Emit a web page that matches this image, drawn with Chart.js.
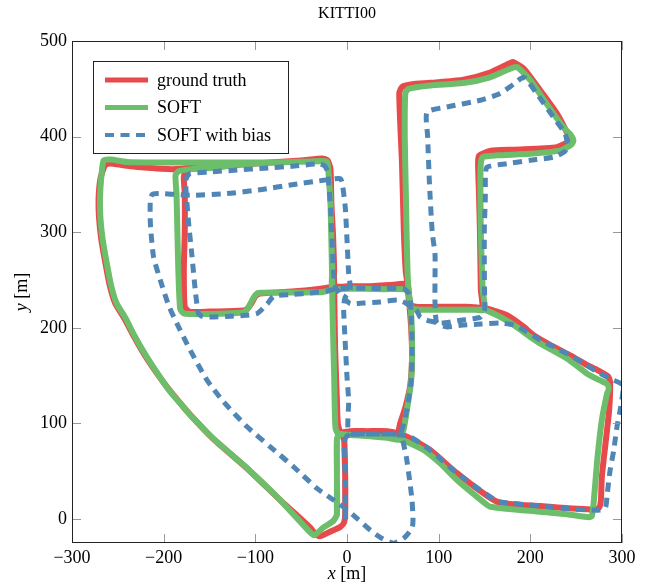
<!DOCTYPE html>
<html>
<head>
<meta charset="utf-8">
<title>KITTI00</title>
<script src="https://cdn.jsdelivr.net/npm/chart.js@4.4.0/dist/chart.umd.min.js"></script>
<style>
  html, body { margin: 0; padding: 0; background: #fff; }
  #wrap { width: 647px; height: 585px; }
</style>
</head>
<body>
<div id="wrap"><canvas id="traj" width="647" height="585"></canvas></div>
<script>
// KITTI00 trajectory - ground truth vs SOFT vs SOFT with bias (metres)

const chartTitle = 'KITTI00';
const seriesNames = ['ground truth', 'SOFT', 'SOFT with bias'];
const xTicks = [-300, -200, -100, 0, 100, 200, 300];
const yTicks = [0, 100, 200, 300, 400, 500];

// [x, y] pairs in driving order
const groundTruth = [
  [-2,0],[-2,45],[-3,82],[-5,89],[3,92],[22,92],[44,92],[55,90],
  [58,100],[64,118],[69,140],[71,170],[70,200],[68,225],[66,245],
  [50,245],[25,243.5],[0,243],[-15,243],[-29,241],[-60,238],[-95,236],[-100,233],[-104,226],[-110,219],[-117,218],
  [-150,217],[-172,217],[-177,222],[-178,260],[-177,300],[-177,340],[-178,358],[-175,365],[-150,368],[-100,372],
  [-50,375],[-27,377],[-21,375],[-18,366],[-17,330],[-15,290],[-14,260],[-14,243],
  [0,243.5],[25,243.5],[50,245],[63,246],[67,236],[68,225],[75,222],[100,222],[130,222],[147,222],
  [146,240],[145,302],[144,340],[143,372],[144,380],[156,385],[182,386.4],[229,389],[243,396],[241,402],
  [229,424],[211,448],[193,471],[181,478],[178,477],[156,467],[127,459.5],[100,457],[73,455],[60,452],[57,445],
  [60,372],[62,302],[64,260],[66,246],[67,236],[68,225],[75,222],[149,221],
  [160,218],[175,213],[193,201],[204,192],[222,182],[244,171],[262,161],[273,156],[285,149],[287,143],
  [286,114],[282,79],[278,44],[277,20],[275,12],[266,10],[211,13.6],[164,18],
  [120,48],[91,72],[66,86],[55,90],[44,92],[22,92],[3,92],[-7,91],
  [-10,100],[-11,124],[-13,180],[-14,243],[-15,292],[-17,330],[-18,362],[-21,375],[-27,377],[-50,375],
  [-100,372],[-150,369],[-190,366],[-225,368],[-244,370],[-258,372],[-264,370],
  [-269,356],[-271,335],[-270.5,315],[-268,292],[-264,270],[-259,245],[-253,226],[-243,210],[-233,192],
  [-221,172],[-207,152],[-193,134],[-180,119],[-171,109],
  [-146,84],[-109,53],[-73,20],[-40,-9],[-36,-14],[-30,-18],[-18,-13],[-7,-8],[-3,-3],[-2,5],[-2,45],[-3,82]
];

const soft = [
  [-11,3],[-11,45],[-11,84],[-8,88.5],[4,88],[22,87],[44,85],[58,83],
  [62,95],[66,118],[70,145],[71,180],[70,215],[68,233],[64,240],
  [40,240.5],[20,241],[0,241],[-16,240],[-26,237.5],[-60,237],[-97,236.5],[-101,233],[-104,228],[-109,219],
  [-114,216],[-150,214.5],[-178,215],[-182,220],[-184,260],[-185,300],[-186,340],[-187,360],[-183,364],
  [-170,366],[-140,368],[-115,371],[-80,373],[-40,374],[-25,374],[-21,371],[-20,360],[-18,330],[-17,290],
  [-16,260],[-16,241],
  [0,241],[20,241],[40,240.5],[64,240],[68,232],[69,221],[80,219],[110,219],[140,219],[150,219],
  [148,240],[146,300],[145.5,350],[146,372],[148,378.6],[163.6,380.4],[200,382],[233,385.6],[245,392],
  [247,396],[244,402],[236,410],[218,434],[200,459],[188,471],[185,472.7],[178,471],[156,462],[127,456],
  [91,453.5],[67,450],[63.6,445],[63,400],[64,350],[65,300],[66,260],[67,241],[68,232],[69,221],[80,219],[150,219],
  [153,218],[164,213],[182,203],[200,190.5],[211,183.6],[240,168],[262,152],[276,145],[284,141],[285.5,136],
  [283.6,131],[278,103.5],[273,62],[269,16],[267,3],[264,2],[240,5],[211,7.6],[156,13],[150,17],
  [120,41],[102,58],[84,72],[65,81],[58,83],[44,85],[22,87],[4,88],[-10,89.6],
  [-12.7,96.5],[-14,150],[-16,228],[-16,241],[-17,290],[-18,330],[-20,360],[-22,374],[-40,374],[-80,373],
  [-120,373],[-160,373],[-200,373],[-240,373.5],[-258,376],[-265.5,375],
  [-268,358],[-269.5,335],[-269,315],[-266.5,292],[-262.5,270],[-257.5,245],[-251.5,226],[-241.5,210],
  [-232,192],[-220,172],[-206.5,152],[-193.5,134],[-181,120],[-172.5,110.5],
  [-148,86],[-111,55],[-75,22],[-42,-12],[-36,-17],[-26,-9],[-15,-2],[-11,5],[-11,45],[-11,84]
];

const softBias = [
  [-2,0],[-2,45],[-3,80],[0,87],[10,89],[30,89],[50,89],[57,88],
  [62,100],[66,118],[70,145],[71,180],[70,215],[68,235],[62,241],
  [40,241],[20,241.5],[0,241.5],[-10,241],[-22,238.6],[-40,236.5],[-58,235],[-80,233],[-87,225],[-98,215],
  [-113,213],[-131,212],[-149,211.4],[-158,212],[-162,215],
  [-165.5,239],[-169,274],[-172.7,309],[-176,354],[-172,361],[-150,363],[-120,365],[-90,367],[-60,369],
  [-30,371.5],[-24,369],
  [-21,363],[-20,351],[-18,326],[-16.4,292],[-14.6,257],[-12.7,243],[-11,240],[-5,233],[3.6,225.4],
  [18,226],[36,227],[55,229],[64,226],[76,218],[80,211],[91,207],[103,205],[124,208],[145,211],[150,218],
  [150,239],[149.8,267],[149.8,302],[150.9,337],[151,358],[152.7,368],[174.5,371.7],[200,375.2],[225.5,378.6],
  [238,385],[240,393],[238,403],[225.5,420],[207,445],[193,462],[182,455],[167,445],[145.5,438],[109,431],[87.3,425.6],
  [88,400],[90,350],[93,300],[96,277],[96,250],[96,227],[98,205],[109,201],[124,202.7],[146,204],[167,205],
  [182,203],[196,196],[211,187],[226,180],[244,171],[258,163],[273,154],[289,146],[301,140],
  [298,114],[294.5,96.5],[291,72],[287,51],[284,27],[282,12],[276,9.4],[247,10.5],[211,13.6],[174.5,17],[163,19],
  [120,48],[91,72],[69,86],[57,88],[44,89],[22,89],[5,89],[1,95],[1.8,124],[0,148.7],[-1.9,183.6],[-3.7,222],
  [-2,232],[3.6,240],[1.8,257],[0,292],[-1.9,326],[-5,350],[-7.3,356],
  [-25.5,354.3],[-58,350],[-94.6,344.5],[-131,340.4],[-171,338.6],[-200,340.4],[-212,340],[-214.5,335],
  [-214.5,309],[-211,274],[-203.7,250],[-194.6,223.6],[-185.5,204.5],[-171,176.6],[-152.7,145.3],[-134.6,122.6],
  [-109,96.5],[-83.7,75.6],[-58.2,54.7],[-32.7,32.1],[-14.6,19.9],[-1.9,11.2],[10.9,0.7],[25.4,-11.5],
  [38.2,-20.2],[50.8,-25.4],[61.7,-20.2],[70.9,-9.7],[72,-1],[70.9,19.9],[68.3,40.8],[64.7,65.1],[60,86]
];

const serif = "'Liberation Serif', 'Times New Roman', serif";

function toPoints(path) {
  return path.map(p => ({ x: p[0], y: p[1] }));
}

function fmt(v) {
  return v < 0 ? '\u2212' + Math.abs(v) : String(v);
}

// frame, inward ticks, legend box and titles (pgfplots look)
const decor = {
  id: 'decor',
  afterDraw(chart) {
    const ctx = chart.ctx;
    const a = chart.chartArea;
    const sx = chart.scales.x;
    const sy = chart.scales.y;
    ctx.save();

    ctx.strokeStyle = '#999';
    ctx.lineWidth = 1;
    ctx.beginPath();
    xTicks.forEach(v => {
      const px = Math.round(sx.getPixelForValue(v)) + 0.5;
      ctx.moveTo(px, a.bottom); ctx.lineTo(px, a.bottom - 9);
      ctx.moveTo(px, a.top); ctx.lineTo(px, a.top + 9);
    });
    yTicks.forEach(v => {
      const py = Math.round(sy.getPixelForValue(v)) + 0.5;
      ctx.moveTo(a.left, py); ctx.lineTo(a.left + 9, py);
      ctx.moveTo(a.right, py); ctx.lineTo(a.right - 9, py);
    });
    ctx.stroke();

    ctx.strokeStyle = '#222';
    ctx.strokeRect(a.left + 0.5, a.top + 0.5, a.right - a.left - 1, a.bottom - a.top - 1);

    // legend
    const lx = a.left + 21, ly = a.top + 20, lw = 195, lh = 92;
    ctx.fillStyle = '#fff';
    ctx.fillRect(lx, ly, lw, lh);
    ctx.strokeStyle = '#222';
    ctx.strokeRect(lx + 0.5, ly + 0.5, lw, lh);
    chart.data.datasets.forEach((ds, i) => {
      const y = ly + 19 + i * 27.5;
      ctx.beginPath();
      ctx.setLineDash(ds.borderDash || []);
      ctx.strokeStyle = ds.borderColor;
      ctx.lineWidth = ds.borderWidth - 1;
      ctx.moveTo(lx + 12, y); ctx.lineTo(lx + 55, y);
      ctx.stroke();
      ctx.setLineDash([]);
      ctx.fillStyle = '#000';
      ctx.font = '18px ' + serif;
      ctx.textAlign = 'left';
      ctx.textBaseline = 'middle';
      ctx.fillText(ds.label, lx + 64, y + 1);
    });

    // title
    ctx.fillStyle = '#000';
    ctx.font = '16px ' + serif;
    ctx.textAlign = 'center';
    ctx.textBaseline = 'middle';
    ctx.fillText(chartTitle, (a.left + a.right) / 2, 14);

    // axis titles: italic variable + unit
    function axisTitle(v, cx, cy, rot) {
      ctx.save();
      ctx.translate(cx, cy);
      ctx.rotate(rot);
      ctx.font = 'italic 18px ' + serif;
      const w1 = ctx.measureText(v).width;
      ctx.font = '18px ' + serif;
      const w2 = ctx.measureText(' [m]').width;
      ctx.textAlign = 'left';
      ctx.textBaseline = 'middle';
      ctx.font = 'italic 18px ' + serif;
      ctx.fillText(v, -(w1 + w2) / 2, 0);
      ctx.font = '18px ' + serif;
      ctx.fillText(' [m]', -(w1 + w2) / 2 + w1, 0);
      ctx.restore();
    }
    axisTitle('x', (a.left + a.right) / 2, 574, 0);
    axisTitle('y', 22, (a.top + a.bottom) / 2, -Math.PI / 2);

    ctx.restore();
  }
};

new Chart(document.getElementById('traj'), {
  type: 'scatter',
  data: {
    datasets: [
      {
        label: seriesNames[0],
        data: toPoints(groundTruth),
        borderColor: '#e8494b',
        borderWidth: 6,
        order: 3
      },
      {
        label: seriesNames[1],
        data: toPoints(soft),
        borderColor: '#6dbe6a',
        borderWidth: 6,
        order: 2
      },
      {
        label: seriesNames[2],
        data: toPoints(softBias),
        borderColor: '#4f86b5',
        borderWidth: 5,
        borderDash: [9, 6.5],
        order: 1
      }
    ]
  },
  options: {
    responsive: false,
    animation: false,
    layout: { padding: { top: 41, right: 25, bottom: 0, left: 0 } },
    datasets: {
      scatter: {
        showLine: true,
        pointRadius: 0,
        pointHoverRadius: 0,
        tension: 0.2,
        clip: 0,
        borderJoinStyle: 'round',
        borderCapStyle: 'butt'
      }
    },
    plugins: {
      legend: { display: false },
      title: { display: false },
      tooltip: { enabled: false }
    },
    scales: {
      x: {
        type: 'linear',
        min: -300,
        max: 300,
        afterBuildTicks: s => { s.ticks = xTicks.map(v => ({ value: v })); },
        afterFit: s => { s.height = 42; },
        grid: { display: false, drawTicks: false },
        border: { display: false },
        ticks: {
          callback: fmt,
          color: '#000',
          padding: 4,
          maxRotation: 0,
          autoSkip: false,
          font: { family: serif, size: 18 }
        }
      },
      y: {
        type: 'linear',
        min: -25,
        max: 500,
        afterBuildTicks: s => { s.ticks = yTicks.map(v => ({ value: v })); },
        afterFit: s => { s.width = 72; },
        grid: { display: false, drawTicks: false },
        border: { display: false },
        ticks: {
          callback: fmt,
          color: '#000',
          padding: 5,
          autoSkip: false,
          font: { family: serif, size: 18 }
        }
      }
    }
  },
  plugins: [decor]
});
</script>
</body>
</html>
